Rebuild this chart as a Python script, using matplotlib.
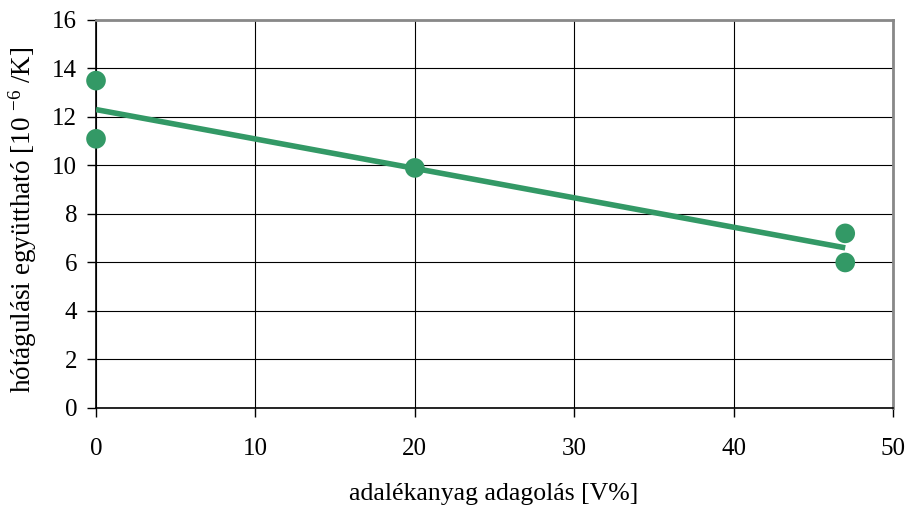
import numpy as np
import matplotlib
matplotlib.use("Agg")
import matplotlib.pyplot as plt

plt.rcParams['font.family'] = ['Liberation Serif', 'DejaVu Serif']
plt.rcParams['mathtext.default'] = 'regular'

x_vals = [0, 0, 20, 47, 47]
y_vals = [13.5, 11.1, 9.9, 7.2, 6.0]
x_ticks = [0, 10, 20, 30, 40, 50]
y_ticks = [0, 2, 4, 6, 8, 10, 12, 14, 16]
green = '#339966'

fig = plt.figure(figsize=(9.11, 5.15), dpi=100)
ax = fig.add_axes([0.1054, 0.2078, 0.8749, 0.7534])

coef = np.polyfit(x_vals, y_vals, 1)
xf = np.array([min(x_vals), max(x_vals)])
ax.plot(xf, np.polyval(coef, xf), color=green, lw=4, solid_capstyle='butt', zorder=3)
ax.scatter(x_vals, y_vals, s=200, color=green, zorder=4, clip_on=False, edgecolors='none')

ax.set_xlim(0, 50)
ax.set_ylim(0, 16)
ax.set_xticks(x_ticks)
ax.set_yticks(y_ticks)
ax.grid(True, color='black', lw=0.8)
ax.set_axisbelow(True)
for s in ['left', 'bottom']:
    ax.spines[s].set_color('black')
    ax.spines[s].set_linewidth(1.2)
for s in ['top', 'right']:
    ax.spines[s].set_color('#888888')
    ax.spines[s].set_linewidth(2)
ax.tick_params(axis='both', direction='out', length=6.5, width=1, labelsize=18, colors='black')
ax.tick_params(axis='x', pad=15)
ax.tick_params(axis='y', pad=7)

ax.set_xlabel('adalékanyag adagolás [V%]', fontsize=18.5)
ax.xaxis.set_label_coords(0.499, -0.193)
ax.set_ylabel('hótágulási együttható [10 $^{-6}$ /K]', fontsize=19.5)
ax.yaxis.set_label_coords(-0.071, 0.485)

fig.savefig('out.png', dpi=100)
